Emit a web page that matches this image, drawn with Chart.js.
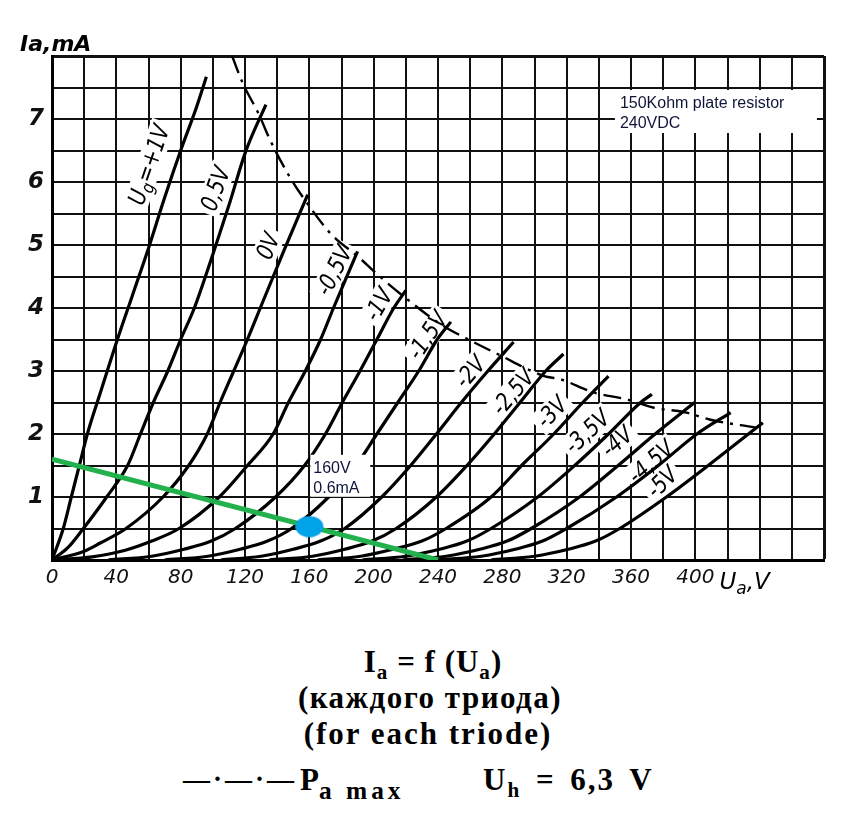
<!DOCTYPE html>
<html>
<head>
<meta charset="utf-8">
<script src="https://cdn.jsdelivr.net/npm/chart.js@4.4.1/dist/chart.umd.min.js"></script>
<style>
  html, body { margin: 0; padding: 0; background: #fff; }
  body { width: 851px; height: 824px; position: relative; overflow: hidden; }
  #chart { position: absolute; left: 0; top: 0; }
  .cap { position: absolute; font-family: "Liberation Serif", "DejaVu Serif", serif; font-weight: bold; color: #000; white-space: nowrap; }
  .cap sub { font-size: 0.68em; vertical-align: -0.35em; line-height: 0; }
</style>
</head>
<body>
<canvas id="chart" width="851" height="620"></canvas>
<div class="cap" style="left:0;width:866px;text-align:center;top:644px;font-size:31px;letter-spacing:1px;">I<sub>a</sub> = f (U<sub>a</sub>)</div>
<div class="cap" style="left:0;width:860px;text-align:center;top:680px;font-size:31px;letter-spacing:1.5px;">(каждого триода)</div>
<div class="cap" style="left:0;width:856px;text-align:center;top:716px;font-size:31px;letter-spacing:2px;">(for each triode)</div>
<div class="cap" style="left:183px;top:764px;font-size:27px;letter-spacing:3px;">—·—·—</div>
<div class="cap" style="left:300px;top:762px;font-size:31px;">P<sub style="font-size:0.82em;letter-spacing:4px;word-spacing:0;">a max</sub></div>
<div class="cap" style="left:483px;top:762px;font-size:31px;letter-spacing:2px;word-spacing:5px;">U<sub>h</sub> = 6,3 V</div>

<script>
// anode current Ia (mA) against anode voltage Ua (V), one pair of arrays per grid voltage
var ua_p10 = [0, 7, 12, 17, 22, 30, 40, 50, 60, 70, 80, 90, 96];
var ia_p10 = [0, 0.5, 1.0, 1.5, 2.0, 2.65, 3.45, 4.2, 4.95, 5.75, 6.5, 7.2, 7.67];

var ua_p05 = [0, 10, 19.5, 34, 47, 55, 63, 72, 80, 88.5, 100, 110, 120.5, 133];
var ia_p05 = [0, 0.2, 0.5, 1.0, 1.5, 2.0, 2.5, 3.0, 3.5, 4.0, 4.85, 5.63, 6.49, 7.23];

var ua_0 = [0, 20, 30, 46, 69, 85, 96.5, 104.5, 113, 121.5, 129.5, 144, 159];
var ia_0 = [0, 0.14, 0.27, 0.5, 1.0, 1.5, 2.0, 2.5, 3.0, 3.5, 4.0, 4.9, 5.8];

var ua_m05 = [0, 25, 45, 62, 79, 104, 121.5, 137.5, 147, 157.5, 167, 175, 190];
var ia_m05 = [0, 0.05, 0.15, 0.3, 0.5, 1.0, 1.5, 2.0, 2.5, 3.0, 3.5, 4.0, 4.9];

var ua_m10 = [35, 62, 82, 99, 114, 139, 157, 170, 180.5, 191.5, 202, 212.5, 220];
var ia_m10 = [0, 0.06, 0.17, 0.3, 0.5, 1.0, 1.5, 2.0, 2.5, 3.0, 3.5, 4.0, 4.28];

var ua_m15 = [70, 97, 117, 134, 149, 172, 189, 202, 215, 228, 239.5, 248];
var ia_m15 = [0, 0.06, 0.17, 0.3, 0.5, 1.0, 1.5, 2.0, 2.5, 3.0, 3.5, 3.78];

var ua_m20 = [105, 130, 150, 167, 182, 205, 223, 239, 254.5, 271, 287];
var ia_m20 = [0, 0.06, 0.17, 0.3, 0.5, 1.0, 1.5, 2.0, 2.5, 3.0, 3.46];

var ua_m25 = [135, 162, 182, 199, 214, 239, 258, 275, 291, 307, 318];
var ia_m25 = [0, 0.06, 0.17, 0.3, 0.5, 1.0, 1.5, 2.0, 2.5, 3.0, 3.27];

var ua_m30 = [165, 192, 212, 230, 245, 273, 292, 312, 330, 346];
var ia_m30 = [0, 0.06, 0.17, 0.3, 0.5, 1.0, 1.5, 2.0, 2.5, 2.92];

var ua_m35 = [193, 220, 241, 258, 273, 302, 325, 346, 366, 373];
var ia_m35 = [0, 0.06, 0.17, 0.3, 0.5, 1.0, 1.5, 2.0, 2.5, 2.63];

var ua_m40 = [218, 245, 266, 283, 298, 328, 352, 375, 399.5];
var ia_m40 = [0, 0.06, 0.17, 0.3, 0.5, 1.0, 1.5, 2.0, 2.5];

var ua_m45 = [240, 267, 288, 305, 320, 351, 377, 401, 422];
var ia_m45 = [0, 0.06, 0.17, 0.3, 0.5, 1.0, 1.5, 2.0, 2.34];

var ua_m50 = [273, 300, 321, 338, 353, 382, 408, 433, 442];
var ia_m50 = [0, 0.06, 0.17, 0.3, 0.5, 1.0, 1.5, 2.0, 2.18];

// maximum anode dissipation (dash-dot)
var ua_pmax = [112, 118.4, 128.7, 135.9, 148.3, 159.6, 174, 190.5, 202.9, 220.3, 243, 260.5, 277, 306, 316, 336.7, 357.3, 373.8, 394.4, 408.8, 438];
var ia_pmax = [8.0, 7.58, 7.07, 6.65, 6.06, 5.63, 5.16, 4.81, 4.52, 4.15, 3.72, 3.48, 3.27, 2.92, 2.87, 2.66, 2.55, 2.42, 2.34, 2.23, 2.10];

// 150 kOhm load line from 240 V, and the working point
var ua_load = [0, 240];
var ia_load = [1.6, 0];
var ua_point = [160];
var ia_point = [0.53];

// curve labels
var LABEL_TEXT = ["U_g=+1V", "0,5V", "0V", "-0,5V", "-1V", "-1,5V", "-2V", "-2,5V", "-3V", "-3,5V", "-4V", "-4,5V", "-5V"];
var LABEL_UA = [60.7, 102, 134.7, 175.7, 203.5, 233.8, 260.3, 286.9, 311, 333, 351.6, 372.7, 379.6];
var LABEL_IA = [6.27, 5.89, 4.98, 4.59, 4.05, 3.56, 2.98, 2.66, 2.34, 2.03, 1.87, 1.55, 1.23];
var LABEL_ANGLE = [-71, -70, -68, -63, -60, -56, -49, -49, -46, -43, -41, -41, -45];


function toPoints(ua, ia) {
    var pts = [];
    for (var i = 0; i < ua.length; i++)
        pts.push({ x: ua[i], y: ia[i] });
    return pts;
}

function curve(ua, ia) {
    return {
        data: toPoints(ua, ia),
        borderColor: "#000",
        borderWidth: 3.2,
        pointRadius: 0,
        showLine: true,
        cubicInterpolationMode: "monotone",
        order: 3
    };
}

// the working point is drawn as a blue ellipse
function ellipseDot() {
    var c = document.createElement("canvas");
    c.width = 30;
    c.height = 22;
    var g = c.getContext("2d");
    g.fillStyle = "#00a2e8";
    g.beginPath();
    g.ellipse(15, 11, 14, 10.5, 0, 0, Math.PI * 2);
    g.fill();
    return c;
}

// text after "_" starts with a one letter subscript
function richWidth(ctx, text, big, small) {
    var parts = text.split("_");
    ctx.font = big;
    var w = ctx.measureText(parts[0]).width;
    if (parts.length > 1) {
        ctx.font = small;
        w += ctx.measureText(parts[1].charAt(0)).width;
        ctx.font = big;
        w += ctx.measureText(parts[1].substr(1)).width;
    }
    return w;
}

function richText(ctx, text, x, y, big, small, subDrop) {
    var parts = text.split("_");
    ctx.font = big;
    ctx.fillText(parts[0], x, y);
    x += ctx.measureText(parts[0]).width;
    if (parts.length > 1) {
        ctx.font = small;
        ctx.fillText(parts[1].charAt(0), x, y + subDrop);
        x += ctx.measureText(parts[1].charAt(0)).width;
        ctx.font = big;
        ctx.fillText(parts[1].substr(1), x, y);
    }
}

var curveLabels = {
    id: "curveLabels",
    beforeDatasetsDraw: function (chart) {
        var ctx = chart.ctx;
        var xs = chart.scales.x;
        var ys = chart.scales.y;
        var big = 'italic 24px "DejaVu Sans"';
        var small = 'italic 18px "DejaVu Sans"';
        var pass, i;
        // white patches first, then all the texts
        for (pass = 0; pass < 2; pass++) {
            for (i = 0; i < LABEL_TEXT.length; i++) {
                var w = richWidth(ctx, LABEL_TEXT[i], big, small);
                ctx.save();
                ctx.translate(xs.getPixelForValue(LABEL_UA[i]), ys.getPixelForValue(LABEL_IA[i]));
                ctx.rotate(LABEL_ANGLE[i] * Math.PI / 180);
                ctx.scale(0.82, 1);
                if (pass == 0) {
                    ctx.fillStyle = "#fff";
                    ctx.fillRect(-w / 2 - 5, -13, w + 10, 25);
                } else {
                    ctx.fillStyle = "#000";
                    ctx.textBaseline = "middle";
                    ctx.textAlign = "left";
                    richText(ctx, LABEL_TEXT[i], -w / 2, 1, big, small, 6);
                }
                ctx.restore();
            }
        }
    }
};

var notes = {
    id: "notes",
    afterDatasetsDraw: function (chart) {
        var ctx = chart.ctx;
        var xs = chart.scales.x;
        var ys = chart.scales.y;
        ctx.save();
        ctx.textBaseline = "alphabetic";
        ctx.textAlign = "left";

        // resistor note, top right
        var bx = xs.getPixelForValue(350), by = ys.getPixelForValue(7.46);
        ctx.fillStyle = "#fff";
        ctx.fillRect(bx, by, 202, 43);
        ctx.fillStyle = "#10143a";
        ctx.font = '16px "Liberation Sans"';
        ctx.fillText("150Kohm plate resistor", bx + 5, by + 18);
        ctx.fillText("240VDC", bx + 5, by + 38);

        // working point note
        bx = xs.getPixelForValue(160.6);
        by = ys.getPixelForValue(1.67);
        ctx.fillStyle = "#fff";
        ctx.fillRect(bx, by, 60, 42);
        ctx.fillStyle = "#10143a";
        ctx.fillText("160V", bx + 3, by + 18);
        ctx.fillText("0.6mA", bx + 3, by + 38);
        ctx.restore();
    },
    afterDraw: function (chart) {
        var ctx = chart.ctx;
        var area = chart.chartArea;
        ctx.save();
        ctx.fillStyle = "#000";
        ctx.textBaseline = "alphabetic";
        ctx.textAlign = "left";
        ctx.font = 'italic bold 22px "DejaVu Sans"';
        ctx.fillText("Ia,mA", area.left - 32, area.top - 5);
        var x = chart.scales.x.getPixelForValue(415);
        richText(ctx, "U_a,V", x, area.bottom + 29, 'italic 23px "DejaVu Sans"', 'italic 17px "DejaVu Sans"', 5);
        ctx.restore();
    }
};


function initChart() {
    var datasets = [
        {
            data: toPoints(ua_point, ia_point),
            pointStyle: ellipseDot(),
            pointRadius: 11,
            showLine: false,
            order: 0
        },
        {
            data: toPoints(ua_load, ia_load),
            borderColor: "#22b14c",
            borderWidth: 5,
            pointRadius: 0,
            showLine: true,
            order: 1
        },
        {
            data: toPoints(ua_pmax, ia_pmax),
            borderColor: "#000",
            borderWidth: 2.4,
            borderDash: [18, 7, 3, 7],
            pointRadius: 0,
            showLine: true,
            cubicInterpolationMode: "monotone",
            order: 2
        },
        curve(ua_p10, ia_p10),
        curve(ua_p05, ia_p05),
        curve(ua_0, ia_0),
        curve(ua_m05, ia_m05),
        curve(ua_m10, ia_m10),
        curve(ua_m15, ia_m15),
        curve(ua_m20, ia_m20),
        curve(ua_m25, ia_m25),
        curve(ua_m30, ia_m30),
        curve(ua_m35, ia_m35),
        curve(ua_m40, ia_m40),
        curve(ua_m45, ia_m45),
        curve(ua_m50, ia_m50)
    ];

    new Chart(document.getElementById("chart"), {
        type: "scatter",
        data: { datasets: datasets },
        plugins: [curveLabels, notes],
        options: {
            responsive: false,
            animation: false,
            devicePixelRatio: 1,
            layout: { padding: { top: 56, right: 27, bottom: 30, left: 0 } },
            plugins: {
                legend: { display: false },
                tooltip: { enabled: false },
                title: { display: false }
            },
            scales: {
                x: {
                    type: "linear",
                    min: 0,
                    max: 480,
                    afterFit: function (scale) { scale.height = 30; },
                    grid: {
                        color: "#111",
                        lineWidth: function (c) { return c.tick && c.tick.value == 480 ? 3 : 2; },
                        drawTicks: false
                    },
                    border: { display: true, color: "#000", width: 3 },
                    ticks: {
                        stepSize: 20,
                        autoSkip: false,
                        maxRotation: 0,
                        padding: 6,
                        color: "#111",
                        font: { family: '"DejaVu Sans"', size: 20, style: "italic" },
                        callback: function (v) { return (v % 40 == 0 && v <= 400) ? v : ""; }
                    }
                },
                y: {
                    type: "linear",
                    min: 0,
                    max: 8,
                    afterFit: function (scale) { scale.width = 52; },
                    grid: {
                        color: "#111",
                        lineWidth: function (c) { return c.tick && c.tick.value == 8 ? 3 : 2; },
                        drawTicks: false
                    },
                    border: { display: true, color: "#000", width: 3 },
                    ticks: {
                        stepSize: 0.5,
                        autoSkip: false,
                        padding: 8,
                        color: "#111",
                        font: { family: '"DejaVu Sans"', size: 23, style: "italic", weight: "bold" },
                        callback: function (v) { return (v % 1 == 0 && v >= 1 && v <= 7) ? v : ""; }
                    }
                }
            }
        }
    });
}

initChart();
</script>
</body>
</html>
